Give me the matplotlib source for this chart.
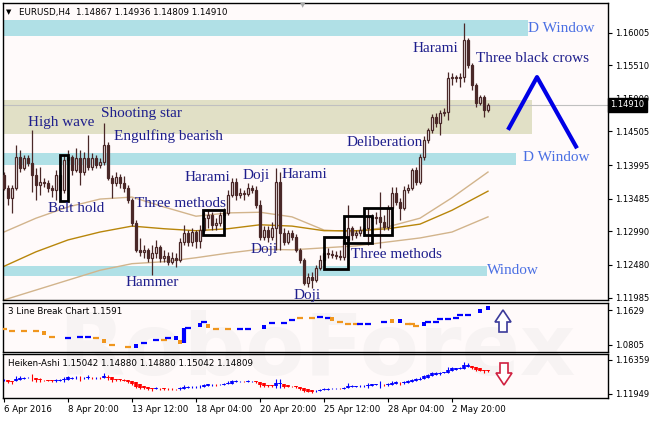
import matplotlib
matplotlib.use("Agg")
import matplotlib.pyplot as plt
from matplotlib.patches import Rectangle, Polygon
from matplotlib.transforms import blended_transform_factory
import numpy as np

# ─── DATA (EURUSD H4) ─────────────────────────────────────────────────────────
first_open = 1.1385
closes = [
    1.1365, 1.1350, 1.1365, 1.1412, 1.1395, 1.1410, 1.1403, 1.1385, 1.1369, 1.1374,
    1.1372, 1.1365, 1.1362, 1.1385, 1.1362, 1.1407, 1.1412, 1.1392, 1.1410, 1.1389,
    1.1410, 1.1397, 1.1410, 1.1400, 1.1404, 1.1430, 1.1380, 1.1372, 1.1381, 1.1372,
    1.1365, 1.1347, 1.1312, 1.1271, 1.1268, 1.1271, 1.1259, 1.1266, 1.1275, 1.1259,
    1.1262, 1.1253, 1.1259, 1.1256, 1.1283, 1.1297, 1.1283, 1.1298, 1.1284, 1.1301,
    1.1319, 1.1324, 1.1309, 1.1312, 1.1324, 1.1327, 1.1354, 1.1374, 1.1354, 1.1357,
    1.1356, 1.1365, 1.1362, 1.1339, 1.1290, 1.1301, 1.1290, 1.1304, 1.1374, 1.1297,
    1.1283, 1.1297, 1.1290, 1.1271, 1.1256, 1.1221, 1.1230, 1.1225, 1.1243, 1.1256,
    1.1266, 1.1265, 1.1263, 1.1262, 1.1260, 1.1286, 1.1304, 1.1294, 1.1297, 1.1301,
    1.1304, 1.1321, 1.1319, 1.1321, 1.1313, 1.1306, 1.1334, 1.1357, 1.1344, 1.1334,
    1.1362, 1.1365, 1.1392, 1.1374, 1.1412, 1.1438, 1.1453, 1.1473, 1.1463, 1.1479,
    1.1480, 1.1532, 1.1533, 1.1532, 1.1533, 1.1589, 1.1551, 1.1521, 1.1494, 1.1503,
    1.1483, 1.1491,
]
highs = [
    1.1389, 1.1369, 1.1369, 1.1430, 1.1422, 1.1415, 1.1415, 1.1453, 1.1395, 1.1397,
    1.1380, 1.1377, 1.1369, 1.1392, 1.1389, 1.1415, 1.1422, 1.1415, 1.1425, 1.1422,
    1.1419, 1.1445, 1.1418, 1.1415, 1.1410, 1.1463, 1.1435, 1.1385, 1.1389, 1.1386,
    1.1383, 1.1369, 1.1350, 1.1316, 1.1289, 1.1278, 1.1274, 1.1278, 1.1286, 1.1278,
    1.1271, 1.1268, 1.1268, 1.1266, 1.1289, 1.1309, 1.1301, 1.1304, 1.1301, 1.1309,
    1.1328, 1.1331, 1.1328, 1.1319, 1.1328, 1.1334, 1.1362, 1.1380, 1.1380, 1.1365,
    1.1362, 1.1372, 1.1369, 1.1368, 1.1347, 1.1307, 1.1307, 1.1313, 1.1395, 1.1389,
    1.1304, 1.1301, 1.1301, 1.1295, 1.1274, 1.1259, 1.1236, 1.1237, 1.1248, 1.1263,
    1.1274, 1.1274, 1.1271, 1.1269, 1.1271, 1.1292, 1.1339, 1.1307, 1.1301, 1.1307,
    1.1310, 1.1334, 1.1325, 1.1328, 1.1359, 1.1324, 1.1339, 1.1366, 1.1366, 1.1350,
    1.1368, 1.1371, 1.1395, 1.1397, 1.1416, 1.1444, 1.1456, 1.1477, 1.1479, 1.1483,
    1.1486, 1.1541, 1.1539, 1.1536, 1.1539, 1.1615, 1.1592, 1.1554, 1.1524, 1.1506,
    1.1506, 1.1494,
]
lows = [
    1.1362, 1.1339, 1.1327, 1.1362, 1.1389, 1.1392, 1.1398, 1.1359, 1.1347, 1.1354,
    1.1366, 1.1359, 1.1351, 1.1347, 1.1359, 1.1357, 1.1404, 1.1385, 1.1389, 1.1369,
    1.1385, 1.1392, 1.1392, 1.1395, 1.1395, 1.1400, 1.1377, 1.1350, 1.1368, 1.1365,
    1.1359, 1.1342, 1.1307, 1.1268, 1.1262, 1.1259, 1.1253, 1.1233, 1.1259, 1.1253,
    1.1253, 1.1248, 1.1250, 1.1245, 1.1253, 1.1278, 1.1277, 1.1277, 1.1274, 1.1274,
    1.1298, 1.1304, 1.1301, 1.1301, 1.1307, 1.1316, 1.1324, 1.1351, 1.1347, 1.1350,
    1.1347, 1.1353, 1.1357, 1.1334, 1.1286, 1.1286, 1.1283, 1.1286, 1.1271, 1.1271,
    1.1278, 1.1280, 1.1286, 1.1268, 1.1251, 1.1218, 1.1215, 1.1213, 1.1222, 1.1240,
    1.1253, 1.1259, 1.1259, 1.1257, 1.1256, 1.1256, 1.1283, 1.1286, 1.1289, 1.1292,
    1.1292, 1.1278, 1.1313, 1.1310, 1.1274, 1.1301, 1.1301, 1.1309, 1.1339, 1.1316,
    1.1331, 1.1357, 1.1362, 1.1369, 1.1371, 1.1407, 1.1433, 1.1448, 1.1457, 1.1445,
    1.1474, 1.1468, 1.1521, 1.1526, 1.1518, 1.1526, 1.1547, 1.1513, 1.1488, 1.1491,
    1.1473, 1.1480,
]
last_price = 1.14910

# moving average envelope, sampled every 8 bars
ma_bars = [0, 8, 16, 24, 32, 40, 48, 56, 64, 72, 80, 88, 96, 104, 112, 121]
ma_mid = [1.1246, 1.1268, 1.1286, 1.1298, 1.1307, 1.1303, 1.1300, 1.1303,
          1.1309, 1.1307, 1.1300, 1.1300, 1.1303, 1.1310, 1.1331, 1.1360]
ma_upper = [1.1298, 1.1319, 1.1336, 1.1348, 1.1351, 1.1336, 1.1322, 1.1327,
            1.1328, 1.1321, 1.1301, 1.1298, 1.1306, 1.1319, 1.1350, 1.1389]
ma_lower = [1.1195, 1.1210, 1.1225, 1.1240, 1.1250, 1.1253, 1.1259, 1.1266,
            1.1272, 1.1271, 1.1274, 1.1277, 1.1283, 1.1289, 1.1298, 1.1321]

# support / resistance zones (right end as bar index)
zone_right = [131, 132, 128, 120.75]
zone_low = [1.1595, 1.1447, 1.1400, 1.1231]
zone_high = [1.1620, 1.1498, 1.1418, 1.1246]
zone_kind = ["window", "range", "window", "window"]

# pattern boxes
box_left = [14, 49.75, 80, 85, 90]
box_right = [16, 55, 86, 92, 97]
box_low = [1.1345, 1.1294, 1.1242, 1.1281, 1.1294]
box_high = [1.1415, 1.1331, 1.1290, 1.1322, 1.1334]

# forecast zigzag
zz_bars = [126, 133.25, 143.25]
zz_price = [1.1453, 1.1533, 1.1425]

# 3 Line Break indicator
lb_bars = [0, 2, 5, 8, 10, 12, 16, 19, 21, 23, 25, 27, 31, 33, 35, 38, 40, 41, 43, 44,
           46, 49, 50, 51, 53, 56, 59, 61, 65, 67, 70, 72, 74, 77, 79, 81, 82, 84, 86, 88,
           89, 91, 95, 97, 99, 101, 102, 103, 105, 106, 108, 109, 111, 113, 114, 116, 119, 121]
lb_vals = [1.1182, 1.1135, 1.1135, 1.1135, 1.1088, 1.0993, 1.0970, 1.0993, 1.0993, 1.0970,
           1.0899, 1.0805, 1.0758, 1.0782, 1.0852, 1.0923, 1.0923, 1.0970, 1.0970, 1.0876,
           1.1205, 1.1276, 1.1347, 1.1252, 1.1182, 1.1182, 1.1182, 1.1182, 1.1229, 1.1323,
           1.1323, 1.1394, 1.1441, 1.1441, 1.1464, 1.1441, 1.1417, 1.1347, 1.1299, 1.1299,
           1.1299, 1.1299, 1.1347, 1.1370, 1.1370, 1.1299, 1.1299, 1.1252, 1.1299, 1.1347,
           1.1347, 1.1417, 1.1417, 1.1441, 1.1511, 1.1511, 1.1605, 1.1676]
lb_up = [
    0, 0, 0, 0, 0, 0, 1, 1, 1, 0, 0, 0, 0, 1, 1, 1, 0, 1, 1, 0,
    1, 1, 1, 0, 0, 0, 1, 1, 1, 1, 1, 1, 0, 0, 1, 1, 0, 0, 0, 0,
    1, 1, 1, 0, 1, 0, 0, 0, 1, 1, 1, 1, 1, 1, 1, 1, 1, 1]
lb_square = [
    0, 0, 0, 0, 1, 0, 0, 0, 0, 0, 1, 0, 0, 1, 0, 0, 0, 0, 1, 1,
    0, 1, 0, 1, 0, 0, 0, 0, 1, 0, 0, 0, 0, 0, 0, 0, 1, 0, 0, 0,
    0, 0, 0, 1, 1, 0, 0, 0, 1, 0, 0, 0, 0, 0, 0, 0, 1, 1]
lb_jump_bar = [45]
lb_jump_lo = [1.0852]
lb_jump_hi = [1.1205]

date_ticks = [0, 16, 32, 48, 64, 80, 96, 112]
date_labels = ["6 Apr 2016", "8 Apr 20:00", "13 Apr 12:00", "18 Apr 04:00",
               "20 Apr 20:00", "25 Apr 12:00", "28 Apr 04:00", "2 May 20:00"]
price_ticks = [1.11985, 1.12480, 1.12990, 1.13485, 1.13995, 1.14505, 1.15000, 1.15510, 1.16005]
# ──────────────────────────────────────────────────────────────────────────────

W, H = 652, 421
BG = "#FFFAFA"
BROWN = "#4A2828"
LABEL = "#1E1E8C"
ZONE_TXT = "#4A6FE3"
SERIF = "Liberation Serif"

plt.rcParams["font.family"] = "DejaVu Sans"


def fx(x):
    return x / W


def fy(y):
    return 1 - y / H


fig = plt.figure(figsize=(W / 100, H / 100), dpi=100)
fig.patch.set_facecolor("white")

ax = fig.add_axes([fx(3), fy(300), 605 / W, 297 / H])
ax1 = fig.add_axes([fx(3), fy(352), 605 / W, 49 / H])
ax2 = fig.add_axes([fx(3), fy(398), 605 / W, 44 / H])

# panel backgrounds drawn below the watermark, axes themselves transparent
for a in (ax, ax1, ax2):
    a.patch.set_alpha(0)
    fig.add_artist(Rectangle(a.get_position().p0, a.get_position().width,
                             a.get_position().height, transform=fig.transFigure,
                             facecolor=BG, edgecolor="none", zorder=-3))
    for s in a.spines.values():
        s.set_linewidth(1.0)
        s.set_color("black")
    a.set_xlim(-0.25, 151)

fig.text(fx(58), fy(352), "RoboForex", fontsize=62, fontweight="bold",
         color="#F7F3F3", va="center", ha="left", zorder=-2)

# ─── main price panel ─────────────────────────────────────────────────────────
ax.set_ylim(1.11949, 1.16454)
for r, lo, hi, kind in zip(zone_right, zone_low, zone_high, zone_kind):
    col = "#B0E0E6" if kind == "window" else "#E1E0C6"
    ax.add_patch(Rectangle((-0.25, lo), r + 0.25, hi - lo, facecolor=col,
                           edgecolor="none", zorder=1))

ax.plot(ma_bars, ma_upper, color="#D2B48C", lw=1.0, zorder=2)
ax.plot(ma_bars, ma_lower, color="#D2B48C", lw=1.0, zorder=2)
ax.plot(ma_bars, ma_mid, color="#B8860B", lw=1.0, zorder=2)

ax.axhline(last_price, color="#C0C0C0", lw=0.8, zorder=2.5)

idx = np.arange(len(closes))
c = np.array(closes)
o = np.array([first_open] + closes[:-1])
h = np.array(highs)
l = np.array(lows)
up = c >= o
ax.vlines(idx, l, h, color=BROWN, lw=0.9, zorder=3)
ax.bar(idx[up], (c - o)[up], bottom=o[up], width=0.62, facecolor=BG,
       edgecolor=BROWN, lw=0.9, zorder=4)
ax.bar(idx[~up], (c - o)[~up], bottom=o[~up], width=0.62, facecolor=BROWN,
       edgecolor=BROWN, lw=0.9, zorder=4)

for bl, br, lo, hi in zip(box_left, box_right, box_low, box_high):
    ax.add_patch(Rectangle((bl, lo), br - bl, hi - lo, fill=False,
                           edgecolor="black", lw=2, zorder=5))

ax.plot(zz_bars, zz_price, color="#0000E6", lw=3, zorder=5, solid_capstyle="butt")

ax.set_xticks([])
ax.yaxis.tick_right()
ax.set_yticks(price_ticks)
ax.set_yticklabels([f"{t:.5f}" for t in price_ticks])
ax.tick_params(axis="y", direction="out", length=3, labelsize=6, pad=2)

trans = blended_transform_factory(ax.transAxes, ax.transData)
ax.text(1.004, last_price, f"{last_price:.5f}", transform=trans, color="white",
        fontsize=6, va="center", ha="left", zorder=10,
        bbox=dict(facecolor="black", edgecolor="black", pad=1.6))

# pattern captions (pixel positions: left x, centre y)
captions = [
    ("High wave", 28, 122), ("Shooting star", 101, 113), ("Engulfing bearish", 114, 136),
    ("Deliberation", 347, 142), ("Harami", 413, 49), ("Three black crows", 476, 58),
    ("Belt hold", 48, 209), ("Three methods", 135, 203), ("Harami", 185, 177),
    ("Doji", 243, 175), ("Harami", 282, 174), ("Doji", 251, 250), ("Hammer", 126, 283),
    ("Doji", 294, 295), ("Three methods", 351, 255),
]
for txt, x, y in captions:
    fig.text(fx(x), fy(y), txt, family=SERIF, fontsize=11, color=LABEL,
             va="center", ha="left", zorder=6)
for txt, x, y in [("D Window", 528, 29), ("D Window", 523, 158), ("Window", 487, 270)]:
    fig.text(fx(x), fy(y), txt, family=SERIF, fontsize=11, color=ZONE_TXT,
             va="center", ha="left", zorder=6)

fig.text(fx(6), fy(12), "▼", fontsize=5, va="center", ha="left", zorder=6)
fig.text(fx(19), fy(12), "EURUSD,H4  1.14867 1.14936 1.14809 1.14910",
         fontsize=6.3, va="center", ha="left", zorder=6)
fig.text(fx(303), fy(5), "▼", fontsize=5, color="#A8A8A8", va="center",
         ha="center", zorder=6)

# ─── 3 line break panel ───────────────────────────────────────────────────────
ax1.set_ylim(1.06402, 1.17938)
for b, v, u, sq in zip(lb_bars, lb_vals, lb_up, lb_square):
    col = "#0000FF" if u else "#F0961E"
    if sq:
        ax1.plot(b, v, marker="s", ms=3.0, color=col, mew=0, zorder=3)
    else:
        ax1.plot(b, v, marker="_", ms=4.5, mew=1.6, color=col, zorder=3)
ax1.vlines(lb_jump_bar, lb_jump_lo, lb_jump_hi, color="#0000FF", lw=3, zorder=3)
ax1.set_xticks([])
ax1.yaxis.tick_right()
ax1.set_yticks([1.0805, 1.1629])
ax1.set_yticklabels(["1.0805", "1.1629"])
ax1.tick_params(axis="y", direction="out", length=3, labelsize=6, pad=2)
fig.text(fx(8), fy(312), "3 Line Break Chart 1.1591", fontsize=6.3,
         va="center", ha="left", zorder=6)

up_arrow = [(495, 322), (503, 310), (511, 322), (507, 322), (507, 332),
            (499, 332), (499, 322)]
fig.add_artist(Polygon([(fx(x), fy(y)) for x, y in up_arrow], closed=True,
                       transform=fig.transFigure, facecolor="white",
                       edgecolor="#3A3A9A", lw=1.2, zorder=6))

# ─── Heiken-Ashi panel ────────────────────────────────────────────────────────
ha_close = (o + h + l + c) / 4
ha_open = np.empty_like(ha_close)
ha_open[0] = (o[0] + c[0]) / 2
for i in range(1, len(c)):
    ha_open[i] = (ha_open[i - 1] + ha_close[i - 1]) / 2
ha_high = np.maximum(h, np.maximum(ha_open, ha_close))
ha_low = np.minimum(l, np.minimum(ha_open, ha_close))
ha_cols = np.where(ha_close >= ha_open, "#0000FF", "#FF0000")

ax2.set_ylim(1.11430, 1.17137)
ax2.vlines(idx, ha_low, ha_high, colors=ha_cols, lw=0.8, zorder=3)
ax2.vlines(idx, ha_open, ha_close, colors=ha_cols, lw=2.6, zorder=4)
ax2.yaxis.tick_right()
ax2.set_yticks([1.11949, 1.16359])
ax2.set_yticklabels(["1.11949", "1.16359"])
ax2.tick_params(axis="y", direction="out", length=3, labelsize=6, pad=2)
ax2.set_xticks(date_ticks)
ax2.set_xticklabels(date_labels)
for lbl in ax2.get_xticklabels():
    lbl.set_horizontalalignment("left")
ax2.tick_params(axis="x", direction="out", length=3, labelsize=6.2, pad=2)
fig.text(fx(8), fy(363), "Heiken-Ashi 1.15042 1.14880 1.14880 1.15042 1.14809",
         fontsize=6.3, va="center", ha="left", zorder=6)

down_arrow = [(500, 363), (508, 363), (508, 373), (512, 373), (504, 385),
              (496, 373), (500, 373)]
fig.add_artist(Polygon([(fx(x), fy(y)) for x, y in down_arrow], closed=True,
                       transform=fig.transFigure, facecolor="white",
                       edgecolor="#D02040", lw=1.2, zorder=6))

fig.savefig("out.png", dpi=100)
